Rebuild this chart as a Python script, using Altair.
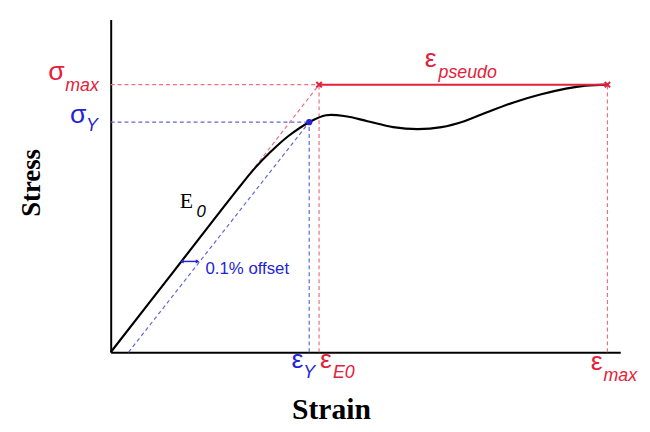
import altair as alt
import pandas as pd

# ---- key values (arbitrary schematic units) ----
eps_Y = 2.01
eps_E0 = 2.11
eps_max = 5.03
sig_Y = 2.33
sig_max = 2.71
offset_start = 0.18

# stress-strain curve
curve_strain = [0.0, 0.65, 1.30, 1.46, 1.62, 1.80, 2.01, 2.18, 2.38, 2.60, 2.86, 3.11,
                3.35, 3.58, 3.81, 4.08, 4.35, 4.61, 4.81, 5.03]
curve_stress = [0.0, 0.835, 1.67, 1.865, 2.03, 2.19, 2.33, 2.40, 2.39, 2.34, 2.28, 2.26,
                2.28, 2.34, 2.43, 2.53, 2.61, 2.67, 2.70, 2.71]

RED = "#e4213a"
BLUE = "#2424d4"
RED_DASH = "#ee7080"
BLUE_DASH = "#6464d6"

x_scale = alt.Scale(domain=[0, 5.16], nice=False, zero=False)
y_scale = alt.Scale(domain=[0, 3.37], nice=False, zero=False)

x_axis = alt.Axis(title="Strain", labels=False, ticks=False, grid=False,
                  domainColor="black", domainWidth=2,
                  titleFont="Liberation Serif", titleFontSize=30, titleFontWeight="bold",
                  titleColor="black", titleX=223, titleY=67,
                  titleAlign="center", titleBaseline="alphabetic")
y_axis = alt.Axis(title="Stress", labels=False, ticks=False, grid=False,
                  domainColor="black", domainWidth=2,
                  titleFont="Liberation Serif", titleFontSize=27, titleFontWeight="bold",
                  titleColor="black", titleX=-80, titleY=165, titleAngle=270,
                  titleAlign="center", titleBaseline="middle")


def X(field="x"):
    return alt.X(f"{field}:Q", scale=x_scale, axis=x_axis)


def Y(field="y"):
    return alt.Y(f"{field}:Q", scale=y_scale, axis=y_axis)


curve_df = pd.DataFrame({"x": curve_strain, "y": curve_stress})
curve = alt.Chart(curve_df).mark_line(color="black", strokeWidth=2.2,
                                      interpolate="catmull-rom").encode(x=X(), y=Y())

# dashed construction lines
red_dash_df = pd.DataFrame({
    "x": [0.0, 0.0, eps_E0, eps_max],
    "y": [sig_max, 0.0, 0.0, 0.0],
    "x2": [eps_E0, eps_E0, eps_E0, eps_max],
    "y2": [sig_max, sig_max, sig_max, sig_max],
})
blue_dash_df = pd.DataFrame({
    "x": [0.0, offset_start, eps_Y],
    "y": [sig_Y, 0.0, 0.0],
    "x2": [eps_Y, eps_Y, eps_Y],
    "y2": [sig_Y, sig_Y, sig_Y],
})
red_dash = alt.Chart(red_dash_df).mark_rule(color=RED_DASH, strokeWidth=1.2,
                                            strokeDash=[4, 3]).encode(
    x=X(), y=Y(), x2="x2:Q", y2="y2:Q")
blue_dash = alt.Chart(blue_dash_df).mark_rule(color=BLUE_DASH, strokeWidth=1.2,
                                              strokeDash=[4, 3]).encode(
    x=X(), y=Y(), x2="x2:Q", y2="y2:Q")

# pseudo strain solid red line
pseudo_df = pd.DataFrame({"x": [eps_E0], "x2": [eps_max], "y": [sig_max]})
pseudo = alt.Chart(pseudo_df).mark_rule(color=RED, strokeWidth=2).encode(
    x=X(), x2="x2:Q", y=Y())

xmark_df = pd.DataFrame({"x": [eps_E0, eps_max], "y": [sig_max, sig_max]})
xmarks = alt.Chart(xmark_df).mark_point(shape="M-1,-1L1,1M-1,1L1,-1", filled=False,
                                        color=RED, strokeWidth=2, size=30,
                                        opacity=1).encode(x=X(), y=Y())

yield_df = pd.DataFrame({"x": [eps_Y], "y": [sig_Y]})
yield_pt = alt.Chart(yield_df).mark_circle(color=BLUE, size=40, opacity=1).encode(
    x=X(), y=Y())

# small double arrow for the 0.1% offset
arrow_x = [0.72, 0.88]
arrow_y = 0.92
arrow_df = pd.DataFrame({"x": [arrow_x[0]], "x2": [arrow_x[1]], "y": [arrow_y]})
arrow_line = alt.Chart(arrow_df).mark_rule(color=BLUE, strokeWidth=1.5).encode(
    x=X(), x2="x2:Q", y=Y())
head_df = pd.DataFrame({"x": arrow_x, "y": [arrow_y, arrow_y],
                        "shape": ["triangle-left", "triangle-right"]})
heads = alt.Chart(head_df).mark_point(filled=True, color=BLUE, size=18, opacity=1).encode(
    x=X(), y=Y(), shape=alt.Shape("shape:N", scale=None, legend=None))

# labels
main_text = ["σ", "σ", "ε", "ε", "ε", "ε"]
main_x = [-0.55, -0.33, 3.24, 1.89, 2.18, 4.92]
main_y = [2.76, 2.32, 2.89, -0.16, -0.16, -0.18]
main_color = [RED, BLUE, RED, BLUE, RED, RED]

sub_text = ["max", "Y", "pseudo", "Y", "E0", "max"]
sub_x = [-0.46, -0.25, 3.32, 1.95, 2.25, 4.99]
sub_y = [2.65, 2.24, 2.78, -0.26, -0.26, -0.29]
sub_color = [RED, BLUE, RED, BLUE, RED, RED]

main_df = pd.DataFrame({"t": main_text, "x": main_x, "y": main_y, "c": main_color})
sub_df = pd.DataFrame({"t": sub_text, "x": sub_x, "y": sub_y, "c": sub_color})

main_lbl = alt.Chart(main_df).mark_text(font="Liberation Sans", fontSize=27,
                                        align="center", baseline="alphabetic").encode(
    x=X(), y=Y(), text="t:N", color=alt.Color("c:N", scale=None))
sub_lbl = alt.Chart(sub_df).mark_text(font="Liberation Sans", fontSize=18,
                                      fontStyle="italic", align="left",
                                      baseline="alphabetic").encode(
    x=X(), y=Y(), text="t:N", color=alt.Color("c:N", scale=None))

e0_df = pd.DataFrame({"t": ["E"], "x": [0.70], "y": [1.46]})
e0_lbl = alt.Chart(e0_df).mark_text(font="Liberation Serif", fontSize=22, color="black",
                                    align="left", baseline="alphabetic").encode(
    x=X(), y=Y(), text="t:N")
e0_sub_df = pd.DataFrame({"t": ["0"], "x": [0.87], "y": [1.37]})
e0_sub = alt.Chart(e0_sub_df).mark_text(font="Liberation Sans", fontSize=17,
                                        fontStyle="italic", color="black",
                                        align="left", baseline="alphabetic").encode(
    x=X(), y=Y(), text="t:N")

off_df = pd.DataFrame({"t": ["0.1% offset"], "x": [0.96], "y": [0.79]})
off_lbl = alt.Chart(off_df).mark_text(font="Liberation Sans", fontSize=17, color=BLUE,
                                      align="left", baseline="alphabetic").encode(
    x=X(), y=Y(), text="t:N")

chart = alt.layer(
    red_dash, blue_dash, curve, pseudo, xmarks, yield_pt, arrow_line, heads,
    main_lbl, sub_lbl, e0_lbl, e0_sub, off_lbl
).properties(
    width=516, height=337,
    autosize=alt.AutoSizeParams(type="none"),
    padding={"left": 104, "top": 9, "right": 22, "bottom": 70},
    background="white",
).configure_view(strokeOpacity=0)

chart.save("out.html", embed_options={"renderer": "svg", "actions": False})
